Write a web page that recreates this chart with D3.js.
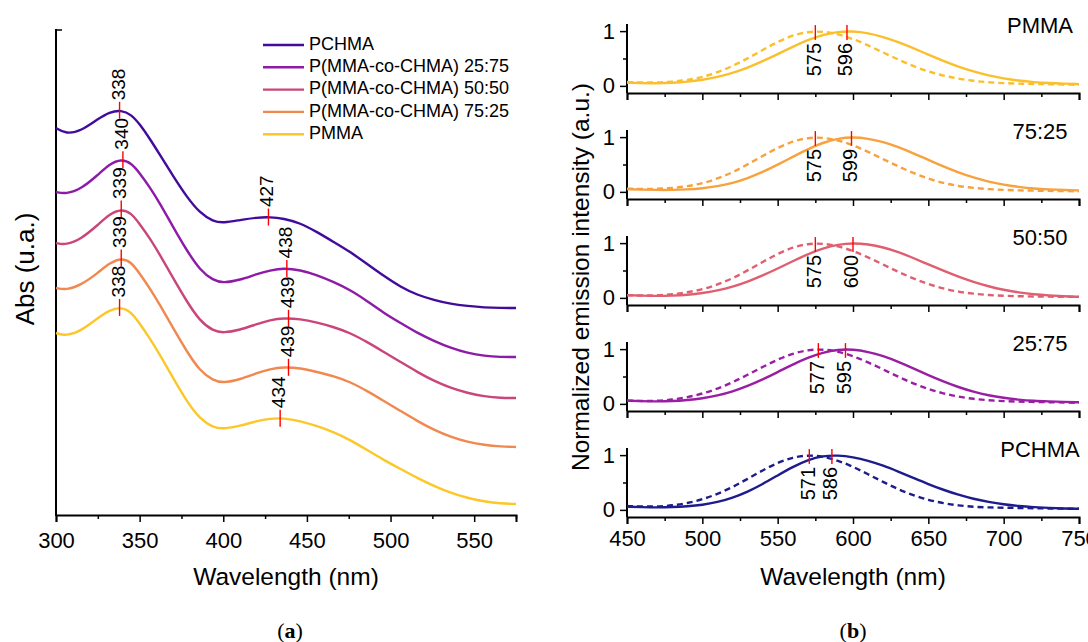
<!DOCTYPE html>
<html>
<head>
<meta charset="utf-8">
<script src="https://cdn.jsdelivr.net/npm/d3@7"></script>
<style>
	body { margin: 0; background: #fff; }
	svg { display: block; font-family: 'Liberation Sans', Arial, sans-serif; }
</style>
</head>
<body>
<div id="chart"></div>
<script>
// (a) absorbance, stacked curves (arbitrary units)
const absSeries = ['PCHMA', 'P(MMA-co-CHMA) 25:75', 'P(MMA-co-CHMA) 50:50', 'P(MMA-co-CHMA) 75:25', 'PMMA']
const absColors = ['#410b9b', '#8e1aa8', '#c9457a', '#f1884f', '#fcc729']
const absWavelengths = [300, 306, 315, 325, 332, 339, 345, 350, 356, 362, 370, 378, 386, 394, 400, 410, 420, 428, 436, 446, 456, 466, 476, 486, 496, 506, 516, 526, 536, 546, 556, 566, 575]
const absPCHMA = [3.87, 3.81, 3.84, 3.96, 4.03, 4.05, 4.005, 3.91, 3.765, 3.605, 3.39, 3.185, 3.02, 2.935, 2.92, 2.95, 2.975, 2.98, 2.965, 2.92, 2.83, 2.73, 2.63, 2.51, 2.39, 2.28, 2.2, 2.15, 2.11, 2.09, 2.075, 2.07, 2.07]
const abs2575 = [3.23, 3.21, 3.26, 3.4, 3.51, 3.56, 3.52, 3.42, 3.28, 3.12, 2.88, 2.65, 2.45, 2.345, 2.32, 2.35, 2.41, 2.445, 2.47, 2.45, 2.4, 2.33, 2.25, 2.14, 2.02, 1.92, 1.82, 1.74, 1.67, 1.62, 1.59, 1.58, 1.58]
const abs5050 = [2.72, 2.7, 2.76, 2.9, 3.01, 3.06, 3.02, 2.91, 2.77, 2.605, 2.37, 2.14, 1.94, 1.84, 1.82, 1.85, 1.91, 1.95, 1.97, 1.96, 1.925, 1.88, 1.82, 1.73, 1.63, 1.53, 1.43, 1.34, 1.27, 1.22, 1.185, 1.17, 1.17]
const abs7525 = [2.27, 2.25, 2.3, 2.42, 2.52, 2.57, 2.53, 2.415, 2.27, 2.105, 1.87, 1.64, 1.44, 1.345, 1.32, 1.355, 1.42, 1.46, 1.48, 1.47, 1.43, 1.39, 1.33, 1.24, 1.14, 1.04, 0.94, 0.85, 0.78, 0.73, 0.7, 0.685, 0.68]
const absPMMA = [1.82, 1.79, 1.84, 1.97, 2.05, 2.08, 2.03, 1.915, 1.77, 1.605, 1.37, 1.14, 0.96, 0.875, 0.86, 0.89, 0.94, 0.965, 0.97, 0.94, 0.89, 0.83, 0.75, 0.65, 0.55, 0.46, 0.37, 0.29, 0.22, 0.17, 0.135, 0.115, 0.11]
const absPeaks = [[338, 427], [340, 438], [339, 439], [339, 439], [338, 434]]

// (b) normalized emission, solid and dashed spectra, every 10 nm from 450 to 750
const emPanels = ['PMMA', '75:25', '50:50', '25:75', 'PCHMA']
const emColors = ['#fbbf2b', '#f7a13f', '#df5f70', '#9a1ea3', '#1d1b8d']
const emWavelengths = d3.range(450, 751, 10)
const emSolid = [
	[0.06, 0.05, 0.045, 0.055, 0.075, 0.11, 0.16, 0.235, 0.33, 0.45, 0.58, 0.715, 0.84, 0.935, 0.99, 1.0, 0.965, 0.895, 0.8, 0.69, 0.57, 0.455, 0.35, 0.26, 0.19, 0.135, 0.095, 0.068, 0.05, 0.04, 0.032],
	[0.05, 0.04, 0.035, 0.035, 0.045, 0.065, 0.1, 0.16, 0.25, 0.36, 0.495, 0.64, 0.78, 0.9, 0.976, 1.0, 0.975, 0.913, 0.82, 0.706, 0.585, 0.465, 0.355, 0.26, 0.185, 0.13, 0.09, 0.06, 0.045, 0.035, 0.025],
	[0.05, 0.04, 0.035, 0.04, 0.055, 0.085, 0.135, 0.2, 0.294, 0.407, 0.535, 0.67, 0.8, 0.905, 0.975, 1.0, 0.98, 0.925, 0.84, 0.73, 0.61, 0.495, 0.385, 0.29, 0.21, 0.145, 0.1, 0.065, 0.045, 0.03, 0.02],
	[0.06, 0.05, 0.045, 0.05, 0.07, 0.1, 0.15, 0.225, 0.325, 0.445, 0.58, 0.72, 0.845, 0.94, 0.993, 0.995, 0.952, 0.875, 0.77, 0.65, 0.525, 0.41, 0.305, 0.22, 0.155, 0.11, 0.075, 0.055, 0.045, 0.035, 0.03],
	[0.06, 0.05, 0.045, 0.05, 0.065, 0.09, 0.14, 0.22, 0.33, 0.47, 0.63, 0.786, 0.913, 0.987, 0.997, 0.964, 0.9, 0.81, 0.7, 0.585, 0.47, 0.365, 0.275, 0.2, 0.145, 0.1, 0.07, 0.05, 0.035, 0.025, 0.02],
]
const emDashed = [
	[0.07, 0.06, 0.06, 0.075, 0.105, 0.16, 0.245, 0.36, 0.5, 0.655, 0.805, 0.925, 0.99, 0.995, 0.946, 0.86, 0.74, 0.61, 0.48, 0.36, 0.26, 0.185, 0.13, 0.09, 0.065, 0.05, 0.04, 0.035, 0.03, 0.025, 0.02],
	[0.06, 0.05, 0.055, 0.07, 0.1, 0.155, 0.24, 0.355, 0.5, 0.655, 0.805, 0.925, 0.99, 0.995, 0.945, 0.855, 0.73, 0.6, 0.465, 0.345, 0.24, 0.16, 0.105, 0.07, 0.05, 0.035, 0.028, 0.022, 0.018, 0.014, 0.01],
	[0.05, 0.04, 0.045, 0.065, 0.1, 0.155, 0.24, 0.355, 0.5, 0.655, 0.805, 0.925, 0.99, 0.995, 0.946, 0.86, 0.74, 0.61, 0.475, 0.355, 0.25, 0.17, 0.11, 0.075, 0.05, 0.038, 0.03, 0.025, 0.022, 0.02, 0.018],
	[0.06, 0.05, 0.055, 0.075, 0.12, 0.185, 0.275, 0.392, 0.53, 0.674, 0.81, 0.92, 0.986, 0.998, 0.958, 0.875, 0.76, 0.63, 0.495, 0.37, 0.27, 0.19, 0.13, 0.09, 0.065, 0.05, 0.04, 0.035, 0.03, 0.025, 0.02],
	[0.07, 0.06, 0.06, 0.08, 0.12, 0.19, 0.29, 0.414, 0.566, 0.722, 0.861, 0.96, 1.0, 0.977, 0.902, 0.79, 0.65, 0.51, 0.375, 0.265, 0.18, 0.12, 0.08, 0.055, 0.045, 0.04, 0.035, 0.03, 0.025, 0.022, 0.02],
]
const emPeakSolid = [596, 599, 600, 595, 586]
const emPeakDashed = [575, 575, 575, 577, 571]

const absValues = [absPCHMA, abs2575, abs5050, abs7525, absPMMA]

const svg = d3.select('#chart').append('svg').attr('width', 1088).attr('height', 642)

drawAbsorbance()
drawEmission()

function drawAbsorbance() {
	const x = d3.scaleLinear().domain([300, 575]).range([56, 516])
	const y = d3.scaleLinear().domain([0, 4.85]).range([515, 30])
	const g = svg.append('g')

	const xAxis = g.append('g').attr('transform', 'translate(0,515)')
		.call(d3.axisBottom(x).tickValues(d3.range(300, 576, 25)).tickSize(7).tickFormat((d) => (d % 50 === 0 ? d : '')))
	xAxis.selectAll('.tick').filter((d) => d % 50 !== 0).select('line').attr('y2', 4)
	styleAxis(xAxis)
	xAxis.selectAll('text').attr('dy', '0.71em').attr('y', 17)

	g.append('line').attr('x1', x(300)).attr('x2', x(300)).attr('y1', 29).attr('y2', 516).attr('stroke', '#000').attr('stroke-width', 2)
	g.append('line').attr('x1', x(300)).attr('x2', x(300) + 6).attr('y1', 30).attr('y2', 30).attr('stroke', '#000').attr('stroke-width', 1.5)

	const line = d3.line().x((d) => x(d[0])).y((d) => y(d[1])).curve(d3.curveBasis)
	absValues.forEach((vals, i) => {
		const pts = absWavelengths.map((w, j) => [w, vals[j]])
		g.append('path').attr('d', line(pts)).attr('fill', 'none').attr('stroke', absColors[i]).attr('stroke-width', 2.4)
		absPeaks[i].forEach((p) => {
			const v = interp(absWavelengths, vals, p)
			g.append('line').attr('x1', x(p)).attr('x2', x(p)).attr('y1', y(v) - 8.5).attr('y2', y(v) + 8.5).attr('stroke', '#ff0000').attr('stroke-width', 1.4)
			g.append('text').attr('transform', `translate(${x(p)},${y(v) - 10}) rotate(-90)`)
				.attr('dominant-baseline', 'middle').attr('font-size', 19).text(p)
		})
	})

	const legend = g.append('g')
	absSeries.forEach((name, i) => {
		const ly = 45 + i * 22.3
		legend.append('line').attr('x1', 263).attr('x2', 304).attr('y1', ly).attr('y2', ly).attr('stroke', absColors[i]).attr('stroke-width', 2.4)
		legend.append('text').attr('x', 309).attr('y', ly).attr('dominant-baseline', 'middle').attr('font-size', 18).text(name)
	})

	g.append('text').attr('transform', 'translate(34,269) rotate(-90)').attr('text-anchor', 'middle').attr('font-size', 26).text('Abs (u.a.)')
	g.append('text').attr('x', 286).attr('y', 585).attr('text-anchor', 'middle').attr('font-size', 24.5).text('Wavelength (nm)')
	caption(g, 290, 'a')
}

function drawEmission() {
	const x = d3.scaleLinear().domain([450, 750]).range([627, 1079])
	const g = svg.append('g')

	emPanels.forEach((name, i) => {
		const bottom = 93 + 106 * i
		const y = d3.scaleLinear().domain([-0.13, 1.13]).range([bottom, bottom - 69])
		const xAxis = g.append('g').attr('transform', `translate(0,${bottom})`)
			.call(d3.axisBottom(x).tickValues(d3.range(450, 751, 25)).tickSize(7)
				.tickFormat((d) => (i === 4 && d % 50 === 0 ? d : '')))
		xAxis.selectAll('.tick').filter((d) => d % 50 !== 0).select('line').attr('y2', 4)
		styleAxis(xAxis)
		xAxis.selectAll('text').attr('y', 13)

		const yAxis = g.append('g').attr('transform', `translate(${x(450)},0)`)
			.call(d3.axisLeft(y).tickValues([0, 0.5, 1]).tickSize(7).tickFormat((d) => (d === 0.5 ? '' : d)))
		yAxis.selectAll('.tick').filter((d) => d === 0.5).select('line').attr('x2', -4)
		styleAxis(yAxis)
		yAxis.select('.domain').attr('d', `M0,${bottom - 69}V${bottom}`)
		yAxis.selectAll('text').attr('x', -12)

		const line = d3.line().x((d) => x(d[0])).y((d) => y(d[1])).curve(d3.curveBasis)
		g.append('path').attr('d', line(emWavelengths.map((w, j) => [w, emDashed[i][j]])))
			.attr('fill', 'none').attr('stroke', emColors[i]).attr('stroke-width', 2.4).attr('stroke-dasharray', '6,4')
		g.append('path').attr('d', line(emWavelengths.map((w, j) => [w, emSolid[i][j]])))
			.attr('fill', 'none').attr('stroke', emColors[i]).attr('stroke-width', 2.4)

		;[emPeakDashed[i], emPeakSolid[i]].forEach((p) => {
			g.append('line').attr('x1', x(p)).attr('x2', x(p)).attr('y1', y(1.11)).attr('y2', y(0.84)).attr('stroke', '#ff0000').attr('stroke-width', 1.4)
			g.append('text').attr('transform', `translate(${x(p)},${y(0.84) + 3}) rotate(-90)`)
				.attr('text-anchor', 'end').attr('dominant-baseline', 'middle').attr('font-size', 20).text(p)
		})

		g.append('text').attr('x', 1040).attr('y', y(1.0)).attr('dy', '0.1em').attr('text-anchor', 'middle').attr('font-size', 22).text(name)
	})

	g.append('text').attr('transform', 'translate(589,277) rotate(-90)').attr('text-anchor', 'middle').attr('font-size', 24.5)
		.text('Normalized emission intensity (a.u.)')
	g.append('text').attr('x', 853).attr('y', 585).attr('text-anchor', 'middle').attr('font-size', 24.5).text('Wavelength (nm)')
	caption(g, 853, 'b')
}

function styleAxis(axis) {
	axis.select('.domain').attr('stroke', '#000').attr('stroke-width', 2)
	axis.selectAll('.tick line').attr('stroke', '#000').attr('stroke-width', 1.5)
	axis.selectAll('text').attr('font-size', 22).attr('fill', '#000').attr('font-family', "'Liberation Sans', Arial, sans-serif")
}

function caption(g, cx, letter) {
	const t = g.append('text').attr('x', cx).attr('y', 638).attr('text-anchor', 'middle')
		.attr('font-family', "'Liberation Serif', 'Times New Roman', serif").attr('font-size', 22)
	t.append('tspan').text('(')
	t.append('tspan').attr('font-weight', 'bold').text(letter)
	t.append('tspan').text(')')
}

function interp(xs, ys, v) {
	const i = d3.bisectRight(xs, v) - 1
	const t = (v - xs[i]) / (xs[i + 1] - xs[i])
	return ys[i] + t * (ys[i + 1] - ys[i])
}
</script>
</body>
</html>
